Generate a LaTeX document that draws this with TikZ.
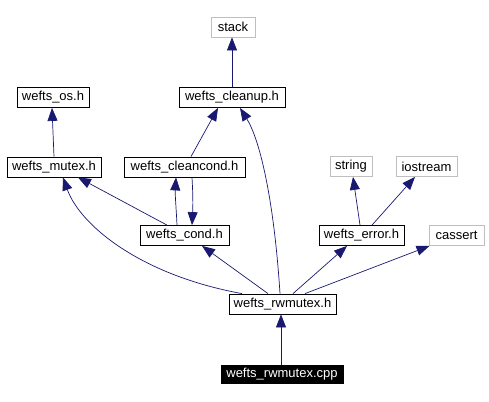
\documentclass[tikz,border=0pt]{standalone}
\usepackage{fontspec}
\setmainfont{Liberation Sans}
\usetikzlibrary{arrows.meta}
\definecolor{edgeblue}{HTML}{191970}
\definecolor{extgray}{HTML}{BFBFBF}

\begin{document}
\begin{tikzpicture}[x=1pt,y=-1pt,
    hdr/.style={draw=black, line width=0.8pt, inner sep=0pt, minimum height=20pt, font=\fontsize{13}{15}\selectfont},
    ext/.style={hdr, draw=extgray},
    dep/.style={draw=edgeblue, line width=0.7pt, -{Triangle[length=13pt,width=10pt,fill=edgeblue]}}]
    \useasboundingbox (0,0) rectangle (489,401);

% headers
\node[ext, minimum width=44pt] (stack) at (233,27) {stack};
\node[hdr, minimum width=72pt] (os) at (53,97.5) {wefts\_os.h};
\node[hdr, minimum width=106pt] (cleanup) at (232,97.5) {wefts\_cleanup.h};
\node[hdr, minimum width=94pt] (mutex) at (54,167) {wefts\_mutex.h};
\node[hdr, minimum width=121pt] (cleancond) at (184.5,167) {wefts\_cleancond.h};
\node[ext, minimum width=42pt] (string) at (351,166.5) {string};
\node[ext, minimum width=61pt] (iostream) at (426.5,166.5) {iostream};
\node[hdr, minimum width=89pt] (cond) at (184.5,235.5) {wefts\_cond.h};
\node[hdr, minimum width=85pt] (error) at (361.5,235.5) {wefts\_error.h};
\node[ext, minimum width=55pt] (cassert) at (456.5,235.5) {cassert};
\node[hdr, minimum width=107pt] (rwmutexh) at (282.5,304) {wefts\_rwmutex.h};
\node[hdr, fill=black, text=white, minimum width=122pt, minimum height=18pt] (rwmutexcpp) at (282,374.5) {wefts\_rwmutex.cpp};

% includes
\draw[dep] (cleanup.north) -- ([xshift=-1pt]stack.south);
\draw[dep] (mutex.north) -- ([xshift=-1pt]os.south);
\draw[dep] ([xshift=6.5pt]cleancond.north) -- ([xshift=-14pt]cleanup.south);
\draw[dep] ([xshift=-17.5pt]cond.north) -- ([xshift=24pt]mutex.south);
\draw[dep] ([xshift=-7.5pt]cond.north) .. controls (176,205) and (175,195) .. ([xshift=-8.5pt]cleancond.south);
\draw[dep] ([xshift=7.5pt]cleancond.south) .. controls (193,195) and (193,205) .. ([xshift=7.5pt]cond.north);

\draw[dep] ([xshift=-40.5pt]rwmutexh.north) .. controls (140,275) and (80,225) .. ([xshift=9pt]mutex.south);
\draw[dep] ([xshift=-2.5pt]rwmutexh.north) .. controls (274,200) and (260,140) .. ([xshift=8pt]cleanup.south);
\draw[dep] ([xshift=-14.5pt]rwmutexh.north) -- ([xshift=17.5pt]cond.south);
\draw[dep] ([xshift=10.5pt]rwmutexh.north) -- ([xshift=-14.5pt]error.south);
\draw[dep] ([xshift=22.5pt]rwmutexh.north) -- ([xshift=-27pt]cassert.south);

\draw[dep] ([xshift=-1.5pt]error.north) -- ([xshift=2pt]string.south);
\draw[dep] ([xshift=10.5pt]error.north) -- ([xshift=-11.5pt]iostream.south);

\draw[dep] ([xshift=-1pt]rwmutexcpp.north) -- ([xshift=-1.5pt]rwmutexh.south);

\end{tikzpicture}
\end{document}
